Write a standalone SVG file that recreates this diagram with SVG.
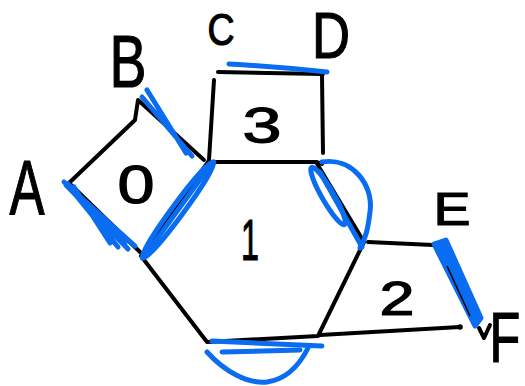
<svg xmlns="http://www.w3.org/2000/svg" width="525" height="386" viewBox="0 0 525 386">
<style>
.k{fill:none;stroke:#000;stroke-width:4;stroke-linecap:round;stroke-linejoin:round}
.b{fill:none;stroke:#0a6cf0;stroke-width:5;stroke-linecap:round;stroke-linejoin:round}
.t{font-family:"Liberation Sans",Arial,sans-serif;fill:#000;stroke:#000;stroke-width:1.2;text-anchor:middle}
</style>
<rect width="525" height="386" fill="#fff"/>
<g id="face-3">
<path class="k" d="M218,72 L323,74 M214,80 L209,160 M322,76 L323,153"/>
</g>
<g id="face-1">
<path class="k" d="M208,162 L317,162 L322,164 M316,162 L364,242 L318,336 L207,342 L141,256 L208,162"/>
</g>
<g id="face-0">
<path class="k" d="M138,100 L135,120 L69,183 L140,252 M138,100 L204,160"/>
</g>
<g id="face-2">
<path class="k" d="M368,242 L433,245 M320,335 L460,327"/>
<circle cx="460" cy="327" r="2.8"/>
<path class="k" d="M479,328 L484,338 L490,325"/>
</g>
<g id="highlights">
<path class="b" d="M229,64 Q280,67 327,72" stroke-width="6"/>
<path class="b" d="M147,90 L186,153 M142,97 L192,156" stroke-width="6"/>
<path class="b" d="M64,182 L135,246 M66,185 L128,249 M70,188 L118,247 M74,187 L110,243 M68,184 L125,244"/>
<ellipse class="b" cx="178" cy="210" rx="60" ry="6" transform="rotate(-53.6 178 210)"/>
<path class="b" d="M146,254 L212,163"/>
<ellipse class="b" cx="328" cy="196" rx="33" ry="6" transform="rotate(60 328 196)"/>
<path class="b" d="M320,172 L362,247"/>
<path class="b" d="M322,162 C352,157 374,185 370,212 C368,228 366,238 360,248"/>
<path class="b" d="M212,341 L322,346" stroke-width="6"/>
<path class="b" d="M222,352 L300,350" stroke-width="6"/>
<path class="b" d="M207,352 C225,372 248,384 267,382 C288,379 301,362 308,348"/>
<path d="M434,244 L446,240 L481,318 L475,326 Z" fill="#0a6cf0" stroke="#0a6cf0" stroke-width="5" stroke-linejoin="round"/>
<path fill="none" stroke="#000" stroke-width="1.5" d="M447,266 L470,316"/>
</g>
<g id="labels">
<text class="t" x="27" y="215" font-size="78" textLength="35" lengthAdjust="spacingAndGlyphs">A</text>
<text class="t" x="128" y="87" font-size="75" textLength="37" lengthAdjust="spacingAndGlyphs">B</text>
<text class="t" x="221" y="45" font-size="44" textLength="27" lengthAdjust="spacingAndGlyphs">C</text>
<text class="t" x="331" y="58" font-size="64" textLength="38" lengthAdjust="spacingAndGlyphs">D</text>
<text class="t" x="452" y="225" font-size="46" textLength="37" lengthAdjust="spacingAndGlyphs">E</text>
<text class="t" transform="translate(505,362) scale(0.72,1)" x="0" y="0" font-size="70">F</text>
<text class="t" x="136" y="203" font-size="53" textLength="37" lengthAdjust="spacingAndGlyphs">0</text>
<text class="t" x="250" y="260" font-size="58" textLength="18" lengthAdjust="spacingAndGlyphs">1</text>
<text class="t" x="397" y="315" font-size="49" textLength="35" lengthAdjust="spacingAndGlyphs">2</text>
<text class="t" x="262" y="143" font-size="50" textLength="39" lengthAdjust="spacingAndGlyphs">3</text>
</g>
</svg>
